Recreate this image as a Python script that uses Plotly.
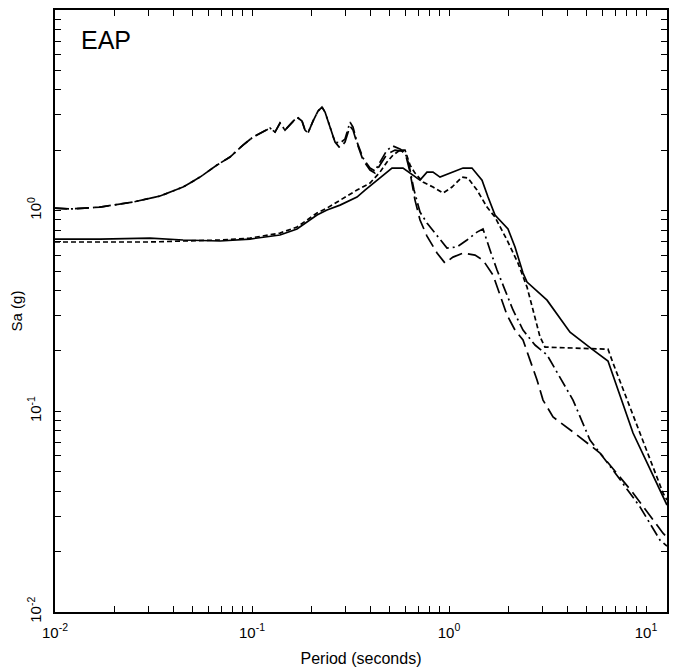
import plotly.graph_objects as go

# ---- data (period in s, Sa in g) ----
solid_T = [0.0100, 0.01692, 0.03035, 0.04465, 0.06878, 0.09768, 0.1387, 0.1692, 0.2138, 0.2403,
           0.2798, 0.3412, 0.3746, 0.4310, 0.4845, 0.5136, 0.5841, 0.6339, 0.7126, 0.7731,
           0.8295, 0.9003, 1.012, 1.178, 1.308, 1.471, 1.578, 1.712, 1.993, 2.163,
           2.375, 2.489, 3.145, 4.114, 5.319, 6.413, 8.593, 12.78]
solid_Sa = [0.722, 0.722, 0.730, 0.714, 0.706, 0.722, 0.756, 0.810, 0.951, 1.007,
            1.066, 1.169, 1.267, 1.420, 1.557, 1.631, 1.631, 1.539, 1.420, 1.557,
            1.557, 1.470, 1.539, 1.631, 1.631, 1.420, 1.169, 0.951, 0.810, 0.659,
            0.489, 0.441, 0.358, 0.248, 0.204, 0.178, 0.078, 0.0341]

short_T = [0.0100, 0.01692, 0.03035, 0.04465, 0.06878, 0.09768, 0.1387, 0.1692, 0.2138, 0.2403,
           0.2798, 0.3412, 0.3972, 0.4465, 0.4845, 0.5195, 0.5640, 0.5980, 0.6339, 0.6721,
           0.7379, 0.8295, 0.9323, 1.036, 1.164, 1.249, 1.387, 1.559, 1.712, 1.970,
           2.240, 2.489, 2.670, 2.897, 3.071, 4.362, 6.413, 6.800, 9.322, 12.20, 12.78]
short_Sa = [0.698, 0.698, 0.698, 0.706, 0.714, 0.730, 0.773, 0.829, 0.973, 1.030,
            1.129, 1.267, 1.372, 1.557, 1.747, 1.892, 2.004, 2.004, 1.688, 1.539,
            1.388, 1.311, 1.224, 1.311, 1.470, 1.453, 1.267, 1.042, 0.929, 0.714,
            0.548, 0.416, 0.320, 0.235, 0.209, 0.207, 0.204, 0.174, 0.0780, 0.0392, 0.0361]

# common low-period part of the two upper records
low_T = [0.0100, 0.01192, 0.01692, 0.02489, 0.03412, 0.04465, 0.05445, 0.06642, 0.07731, 0.09003,
         0.1012, 0.1098, 0.1164, 0.1234, 0.1309, 0.1387, 0.1471, 0.1559, 0.1692, 0.1794,
         0.1858, 0.1924, 0.2040, 0.2163, 0.2266, 0.2348, 0.2489, 0.2639]
low_Sa = [1.030, 1.019, 1.042, 1.104, 1.183, 1.311, 1.470, 1.688, 1.850, 2.123,
          2.327, 2.436, 2.521, 2.580, 2.464, 2.733, 2.521, 2.670, 2.926, 2.796,
          2.521, 2.436, 2.796, 3.135, 3.282, 3.099, 2.580, 2.197]

longdash_T = low_T + [0.2798, 0.2966, 0.3145, 0.3256, 0.3412, 0.3660, 0.3972, 0.4211, 0.4465, 0.4845,
                      0.5319, 0.5773, 0.6049, 0.6339, 0.6721, 0.7126, 0.7731, 0.8693, 0.9543, 1.048,
                      1.178, 1.355, 1.488, 1.672, 1.815, 1.970, 2.163, 2.375, 2.578, 2.798,
                      3.001, 3.373, 4.261, 5.842, 8.593, 12.20, 12.78]
longdash_Sa = low_Sa + [2.051, 2.197, 2.640, 2.521, 2.172, 1.787, 1.594, 1.539, 1.688, 1.914,
                        2.004, 1.982, 1.871, 1.557, 1.129, 0.898, 0.747, 0.615, 0.548, 0.587,
                        0.615, 0.601, 0.567, 0.478, 0.380, 0.302, 0.254, 0.227, 0.180, 0.1432,
                        0.1138, 0.0937, 0.0789, 0.0620, 0.0392, 0.0247, 0.0236]

dashdot_T = low_T + [0.2798, 0.2966, 0.3145, 0.3256, 0.3412, 0.3660, 0.3972, 0.4211, 0.4465, 0.4845,
                     0.5195, 0.5640, 0.5980, 0.6266, 0.6644, 0.7126, 0.7731, 0.8795, 0.9768, 1.098,
                     1.234, 1.387, 1.488, 1.615, 1.753, 1.925, 2.113, 2.375, 2.733, 3.145,
                     3.660, 4.261, 5.195, 6.049, 6.800, 9.322, 11.78, 12.78]
dashdot_Sa = low_Sa + [2.172, 2.274, 2.764, 2.610, 2.197, 1.829, 1.631, 1.575, 1.747, 2.004,
                       2.098, 2.027, 1.959, 1.688, 1.267, 0.984, 0.868, 0.739, 0.651, 0.659,
                       0.714, 0.782, 0.810, 0.637, 0.506, 0.402, 0.320, 0.254, 0.214, 0.191,
                       0.1465, 0.1138, 0.0719, 0.0592, 0.0510, 0.0334, 0.0228, 0.0213]

x_ticks = [0.01, 0.1, 1, 10]
x_ticklabels = ["10<sup>-2</sup>", "10<sup>-1</sup>", "10<sup>0</sup>", "10<sup>1</sup>"]
y_ticks = [0.01, 0.1, 1, 10]
y_ticklabels = ["10<sup>-2</sup>", "10<sup>-1</sup>", "10<sup>0</sup>", "10<sup>1</sup>"]

FONT = "Liberation Sans, Arial, sans-serif"

def all_ticks(lo_exp, hi_exp, labeled, labels, maxval):
    vals, texts = [], []
    for e in range(lo_exp, hi_exp + 1):
        for m in range(1, 10):
            v = m * 10 ** e
            if v > maxval * 1.0001:
                continue
            vals.append(v)
            if v in labeled:
                texts.append(labels[labeled.index(v)])
            else:
                texts.append("")
    return vals, texts

xv, xt = all_ticks(-2, 1, x_ticks, x_ticklabels, 12.8)
yv, yt = all_ticks(-2, 1, y_ticks, y_ticklabels, 10)

fig = go.Figure()
line_w = 1.7
fig.add_trace(go.Scatter(x=solid_T, y=solid_Sa, mode="lines",
                         line=dict(color="black", width=line_w, dash="solid"), showlegend=False))
fig.add_trace(go.Scatter(x=short_T, y=short_Sa, mode="lines",
                         line=dict(color="black", width=line_w, dash="5px,3px"), showlegend=False))
fig.add_trace(go.Scatter(x=longdash_T, y=longdash_Sa, mode="lines",
                         line=dict(color="black", width=line_w, dash="14px,6px"), showlegend=False))
fig.add_trace(go.Scatter(x=dashdot_T, y=dashdot_Sa, mode="lines",
                         line=dict(color="black", width=line_w, dash="12px,4px,2px,4px"), showlegend=False))

fig.add_annotation(text="EAP", xref="paper", yref="paper", x=0.04, y=0.95,
                   xanchor="left", yanchor="middle", showarrow=False,
                   font=dict(family=FONT, size=25, color="black"))

fig.update_xaxes(type="log", range=[-2, 1.1066], tickvals=xv, ticktext=xt,
                 ticks="inside", ticklen=6, tickcolor="black", tickwidth=1,
                 showline=True, linecolor="black", linewidth=1.5, mirror="ticks",
                 showgrid=False, zeroline=False, ticklabelstandoff=6, automargin=False,
                 tickfont=dict(family=FONT, size=15, color="black"),
                 title=dict(text="Period (seconds)", font=dict(family=FONT, size=16, color="black"), standoff=13))
fig.update_yaxes(type="log", range=[-2, 1], tickvals=yv, ticktext=yt,
                 ticks="inside", ticklen=6, tickcolor="black", tickwidth=1,
                 showline=True, linecolor="black", linewidth=1.5, mirror="ticks",
                 showgrid=False, zeroline=False, tickangle=-90, ticklabelstandoff=6, automargin=False,
                 tickfont=dict(family=FONT, size=15, color="black"),
                 title=dict(text="Sa (g)", font=dict(family=FONT, size=15, color="black"), standoff=3))

# the page body adds an 8px offset, so the figure is 8px smaller and margins shifted
fig.update_layout(width=673, height=661, margin=dict(l=47, r=14, t=2, b=57),
                  paper_bgcolor="white", plot_bgcolor="white", showlegend=False)

fig.write_html("out.html")
